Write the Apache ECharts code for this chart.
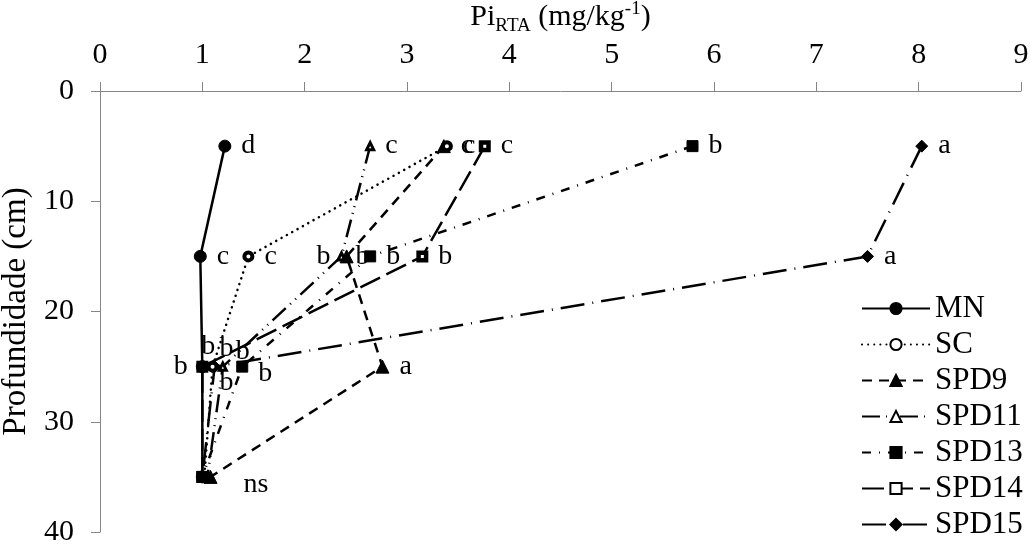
<!DOCTYPE html>
<html>
<head>
<meta charset="utf-8">
<script src="https://cdn.jsdelivr.net/npm/echarts@6/dist/echarts.min.js"></script>
<style>
  html, body { margin: 0; padding: 0; background: #fff; }
  #charts { width: 1032px; height: 552px; }
</style>
</head>
<body>
<div id="charts"></div>
<script>
// profundidade (cm) e valores de Pi RTA por tratamento
var depths = [5, 15, 25, 35];
var seriesNames = ['MN', 'SC', 'SPD9', 'SPD11', 'SPD13', 'SPD14', 'SPD15'];
var mnVals    = [1.22, 0.98, 1.00, 1.00];
var scVals    = [3.39, 1.45, 1.10, 1.02];
var spd9Vals  = [3.36, 2.41, 2.76, 1.08];
var spd11Vals = [2.64, 2.36, 1.20, 1.05];
var spd13Vals = [5.79, 2.64, 1.39, 1.00];
var spd14Vals = [3.76, 3.15, 1.00, 1.00];
var spd15Vals = [8.03, 7.50, 1.12, 1.00];
// letras de significancia
var mnLabels    = ['d', 'c', 'b', ''];
var scLabels    = ['c', 'c', 'b', ''];
var spd9Labels  = ['c', 'b', 'a', 'ns'];
var spd11Labels = ['c', 'b', 'b', ''];
var spd13Labels = ['b', 'b', 'b', ''];
var spd14Labels = ['c', 'b', 'b', ''];
var spd15Labels = ['a', 'a', 'b', ''];
var xTicks = [0, 1, 2, 3, 4, 5, 6, 7, 8, 9];
var yTicks = [0, 10, 20, 30, 40];

var FONT = 'Liberation Serif';

(function () {
    var myChart = echarts.init(document.getElementById('charts'));

    var vals = [mnVals, scVals, spd9Vals, spd11Vals, spd13Vals, spd14Vals, spd15Vals];
    var labels = [mnLabels, scLabels, spd9Labels, spd11Labels, spd13Labels, spd14Labels, spd15Labels];

    // estilo de cada serie (tipo de linha e marcador)
    var styles = [
        {dash: 'solid', symbol: 'circle', size: 12, fill: '#000', bw: 1},
        {dash: [0.1, 6], cap: 'round', symbol: 'circle', size: 8, fill: '#fff', bw: 4},
        {dash: [10, 7], symbol: 'triangle', size: 13, fill: '#000', bw: 1},
        {dash: [18, 6, 1, 6, 1, 6], symbol: 'triangle', size: 7, fill: '#fff', bw: 3},
        {dash: [9, 8, 1, 8], symbol: 'rect', size: 11, fill: '#000', bw: 1},
        {dash: [22, 7], symbol: 'rect', size: 7.5, fill: '#fff', bw: 4.5},
        {dash: [24, 8, 1, 8], symbol: 'diamond', size: 12, fill: '#000', bw: 1}
    ];

    // posicao dos rotulos que fogem do padrao (direita)
    var labelPos = {
        '0-2': {position: 'left', distance: 8},
        '1-2': {position: 'top', distance: 2, offset: [14, 4]},
        '2-1': {position: 'right', distance: 2},
        '2-3': {position: 'right', distance: 26, offset: [0, 8]},
        '3-1': {position: 'left', distance: 6},
        '3-2': {position: 'top', distance: 2, offset: [20, 6]},
        '4-2': {position: 'right', distance: 10, offset: [0, 7]},
        '5-2': {position: 'top', distance: 2, offset: [6, 2]},
        '6-2': {position: 'bottom', distance: 0, offset: [12, -4]}
    };

    var series = seriesNames.map(function (name, i) {
        var st = styles[i];
        return {
            name: name,
            type: 'line',
            symbol: st.symbol,
            symbolSize: st.size,
            lineStyle: {color: '#000', width: 2.5, type: st.dash, cap: st.cap || 'butt'},
            itemStyle: {color: st.fill, borderColor: '#000', borderWidth: st.bw},
            z: 10 - i,
            data: depths.map(function (d, j) {
                var lab = {
                    show: labels[i][j] !== '',
                    formatter: labels[i][j],
                    position: 'right',
                    distance: 10,
                    color: '#000',
                    fontFamily: FONT,
                    fontSize: 28
                };
                var p = labelPos[i + '-' + j];
                if (p) {
                    for (var k in p) lab[k] = p[k];
                }
                return {value: [vals[i][j], d], label: lab};
            })
        };
    });

    var option = {
        animation: false,
        backgroundColor: '#fff',
        grid: {left: 100, right: 11, top: 91, bottom: 20, containLabel: false, outerBoundsMode: 'none'},
        legend: {
            orient: 'vertical',
            left: 856,
            top: 288,
            itemWidth: 68,
            itemHeight: 14,
            itemGap: 5,
            data: seriesNames,
            textStyle: {fontFamily: FONT, fontSize: 31, color: '#000'}
        },
        xAxis: {
            type: 'value',
            position: 'top',
            min: xTicks[0],
            max: xTicks[xTicks.length - 1],
            interval: 1,
            name: '{a|Pi}{sub|RTA}{a| (mg/kg}{sup|-1}{a|)}',
            nameLocation: 'middle',
            nameGap: 42,
            nameTextStyle: {
                rich: {
                    a: {fontFamily: FONT, fontSize: 30, color: '#000', lineHeight: 36},
                    sub: {fontFamily: FONT, fontSize: 19, color: '#000', verticalAlign: 'bottom', lineHeight: 36},
                    sup: {fontFamily: FONT, fontSize: 19, color: '#000', verticalAlign: 'top', lineHeight: 36}
                }
            },
            axisLine: {lineStyle: {color: '#868686', width: 1}},
            axisTick: {show: true, inside: false, length: 9, lineStyle: {color: '#868686'}},
            axisLabel: {fontFamily: FONT, fontSize: 30, color: '#000', margin: 21},
            splitLine: {show: false}
        },
        yAxis: {
            type: 'value',
            inverse: true,
            min: yTicks[0],
            max: yTicks[yTicks.length - 1],
            interval: 10,
            name: 'Profundidade (cm)',
            nameLocation: 'middle',
            nameGap: 62,
            nameRotate: 90,
            nameTextStyle: {fontFamily: FONT, fontSize: 33, color: '#000'},
            axisLine: {show: true, lineStyle: {color: '#868686', width: 1}},
            axisTick: {show: true, inside: false, length: 9, lineStyle: {color: '#868686'}},
            axisLabel: {fontFamily: FONT, fontSize: 30, color: '#000', margin: 26},
            splitLine: {show: false}
        },
        series: series
    };

    myChart.setOption(option);
})();
</script>
</body>
</html>
